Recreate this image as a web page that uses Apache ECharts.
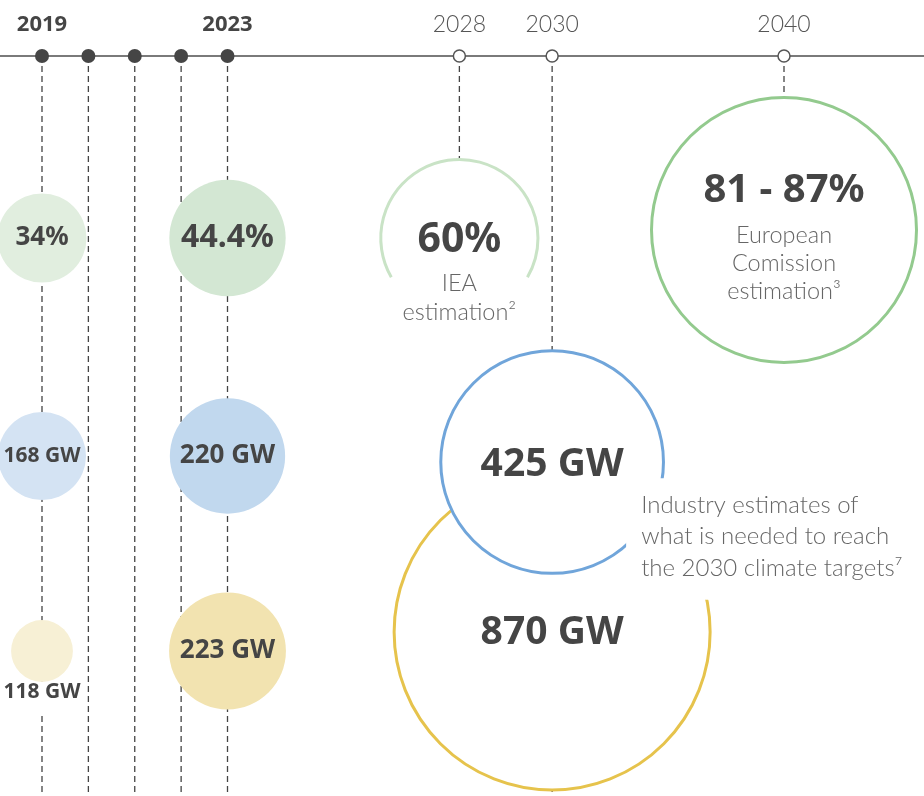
<!DOCTYPE html>
<html><head><meta charset="utf-8">
<script src="https://cdn.jsdelivr.net/npm/echarts@6/dist/echarts.min.js"></script>
<style>html,body{margin:0;padding:0;background:#fff}#c{width:924px;height:796px}</style>
</head><body><div id="c"></div>
<script>
// ---- Timeline ----
const years = ['2019','2020','2021','2022','2023','2028','2030','2040'];
const yearSlots = [0,1,2,3,4,9,11,16];          // broken time scale (2030→2040 compressed)
const labeledYears = ['2019','2023','2028','2030','2040'];
const historicYears = ['2019','2020','2021','2022','2023'];

// ---- Historic values ----
const histYears = ['2019','2023'];
const shareValues = [34, 44.4];        // renewable share of electricity, %
const windValues = [168, 220];         // wind capacity, GW
const solarValues = [118, 223];        // solar capacity, GW

// ---- Projections ----
const projYears = ['2030','2030','2028','2040'];
const projValues = [870, 425, 60, 84];                 // 84 = mid of 81-87 %
const projLabels = ['870 GW','425 GW','60%','81 - 87%'];
const projNotes = ['', '', 'IEA\nestimation²', 'European\nComission\nestimation³'];
const projKinds = ['gw','gw','pct','pct'];
const industryNote = 'Industry estimates of\nwhat is needed to reach\nthe 2030 climate targets⁷';

// ---- Layout / style (not data) ----
const slotOf = y => yearSlots[years.indexOf(y)];
const PCT_PX = 2.62, GW_PX = 0.524;
const rowY = {share: 238, wind: 456, solar: 651};
const TOP = 56, BOTTOM = 796;
const BOLD = 'Noto Sans', LIGHT = 'Lato';
const DARK = '#454545', GREY = '#666';
const histFill = {share: ['#e1eedf','#d3e7d3'], wind: ['#d4e3f3','#c1d8ee'], solar: ['#f7f0d5','#f2e3b0']};
const histFont = {share: [26, 32], wind: [21, 26], solar: [21, 26]};
const projLayout = [
  {cy: 632, size: 316, stroke: '#e6c34c', font: 39, dy: 1, z: 1},
  {cy: 462, stroke: '#70a5da', font: 39, dy: 3, z: 2, note: true},
  {cy: 238, stroke: '#c9e3c6', font: 41, dy: 2, gap: true, noteDy: 45, noteLh: 29, z: 1},
  {cy: 230, size: 265, stroke: '#93ca8e', font: 40, dy: -39, noteDy: 5.5, noteLh: 28, z: 1}
];
const projSize = i => projLayout[i].size || projValues[i] * (projKinds[i] === 'pct' ? PCT_PX : GW_PX);

// historic filled circles
const histData = [];
[['share', shareValues, PCT_PX, v => v + '%'], ['wind', windValues, GW_PX, v => v + ' GW'], ['solar', solarValues, GW_PX, v => v + ' GW']]
.forEach(([row, vals, k, fmt]) => {
  vals.forEach((v, i) => {
    const size = v * k;
    const small = row === 'solar' && i === 0;
    histData.push({
      value: [slotOf(histYears[i]), rowY[row], v],
      symbolSize: size,
      itemStyle: {color: histFill[row][i], opacity: 1},
      label: small ? {
        show: true, position: 'bottom', distance: 0, formatter: fmt(v),
        fontFamily: BOLD, fontWeight: 'bold', fontSize: histFont[row][i], color: DARK,
        backgroundColor: '#fff', padding: [0, 3, 9, 3]
      } : {
        show: true, position: 'inside', formatter: fmt(v),
        fontFamily: BOLD, fontWeight: 'bold', fontSize: histFont[row][i], color: DARK
      }
    });
  });
});

// dashed guides
const stopAtCircle = ['2028','2040'];
const guideData = years.map(y => {
  let end = BOTTOM;
  if (stopAtCircle.includes(y)) {
    const i = projYears.indexOf(y);
    end = projLayout[i].cy - projSize(i) / 2;
  }
  return [slotOf(y), TOP, end];
});

const projData = projYears.map((y, i) => [slotOf(y), projLayout[i].cy, i]);

const chart = echarts.init(document.getElementById('c'));
chart.setOption({
  animation: false,
  grid: {left: 0, right: 0, top: TOP, bottom: 0},
  xAxis: {
    type: 'value', position: 'top',
    min: -42 / 46.375, max: 882 / 46.375,
    axisLine: {show: true, lineStyle: {color: '#7a7a7a', width: 2}},
    axisTick: {show: false}, splitLine: {show: false},
    axisLabel: {
      customValues: labeledYears.map(slotOf),
      margin: 20,
      formatter: v => {
        const y = years[yearSlots.indexOf(Math.round(v))];
        return historicYears.includes(y) ? '{b|' + y + '}' : '{n|' + y + '}';
      },
      rich: {
        b: {fontFamily: BOLD, fontWeight: 'bold', fontSize: 22, color: DARK},
        n: {fontFamily: LIGHT, fontWeight: 300, fontSize: 23, color: '#555'}
      }
    }
  },
  yAxis: {type: 'value', inverse: true, min: TOP, max: BOTTOM, show: false},
  series: [
    {
      type: 'custom', z: 1, clip: false,
      data: guideData,
      renderItem: (p, api) => {
        const a = api.coord([api.value(0), api.value(1)]);
        const b = api.coord([api.value(0), api.value(2)]);
        return {type: 'line', shape: {x1: a[0], y1: a[1], x2: b[0], y2: b[1]},
          style: {stroke: '#444', lineWidth: 1.3, lineDash: [6, 4]}};
      }
    },
    {
      type: 'scatter', z: 3, clip: false, symbol: 'circle',
      data: histData, emphasis: {disabled: true}
    },
    {
      type: 'custom', z: 4, clip: false,
      data: projData,
      renderItem: (p, api) => {
        const i = api.value(2);
        const L = projLayout[i];
        const c = api.coord([api.value(0), api.value(1)]);
        const r = projSize(i) / 2;
        const ch = [];
        ch.push({type: 'circle', z2: L.z * 10, shape: {cx: c[0], cy: c[1], r}, style: {fill: '#fff'}});
        if (L.gap) {
          ch.push({type: 'arc', z2: L.z * 10 + 1,
            shape: {cx: c[0], cy: c[1], r, startAngle: 150 * Math.PI / 180, endAngle: 390 * Math.PI / 180, clockwise: true},
            style: {stroke: L.stroke, lineWidth: 3, fill: null}});
        } else {
          ch.push({type: 'circle', z2: L.z * 10 + 1, shape: {cx: c[0], cy: c[1], r},
            style: {stroke: L.stroke, lineWidth: 3, fill: null}});
        }
        ch.push({type: 'text', z2: L.z * 10 + 2, x: c[0], y: c[1] + L.dy,
          style: {text: projLabels[i], align: 'center', verticalAlign: 'middle',
            fontFamily: BOLD, fontWeight: 'bold', fontSize: L.font, fill: DARK}});
        if (projNotes[i]) {
          ch.push({type: 'text', z2: L.z * 10 + 2, x: c[0], y: c[1] + L.noteDy - L.noteLh / 2,
            style: {text: projNotes[i], align: 'center', verticalAlign: 'top', lineHeight: L.noteLh,
              fontFamily: LIGHT, fontWeight: 300, fontSize: 23.5, fill: GREY}});
        }
        if (L.note) {
          ch.push({type: 'text', z2: 100, x: c[0] + 89 - 15, y: c[1] + 43 - 15.75 - 11,
            style: {text: industryNote, align: 'left', verticalAlign: 'top', lineHeight: 31.5,
              fontFamily: LIGHT, fontWeight: 300, fontSize: 24, fill: GREY,
              backgroundColor: '#fff', padding: [11, 20, 16, 15]}});
        }
        return {type: 'group', children: ch};
      }
    },
    {
      type: 'scatter', z: 5, clip: false, symbol: 'circle',
      emphasis: {disabled: true},
      data: years.map(y => {
        const hist = historicYears.includes(y);
        return {
          value: [slotOf(y), TOP],
          symbolSize: hist ? 14 : 12,
          itemStyle: hist ? {color: '#454545', opacity: 1} : {color: '#fff', borderColor: '#555', borderWidth: 1.5, opacity: 1}
        };
      })
    }
  ]
});
</script></body></html>
